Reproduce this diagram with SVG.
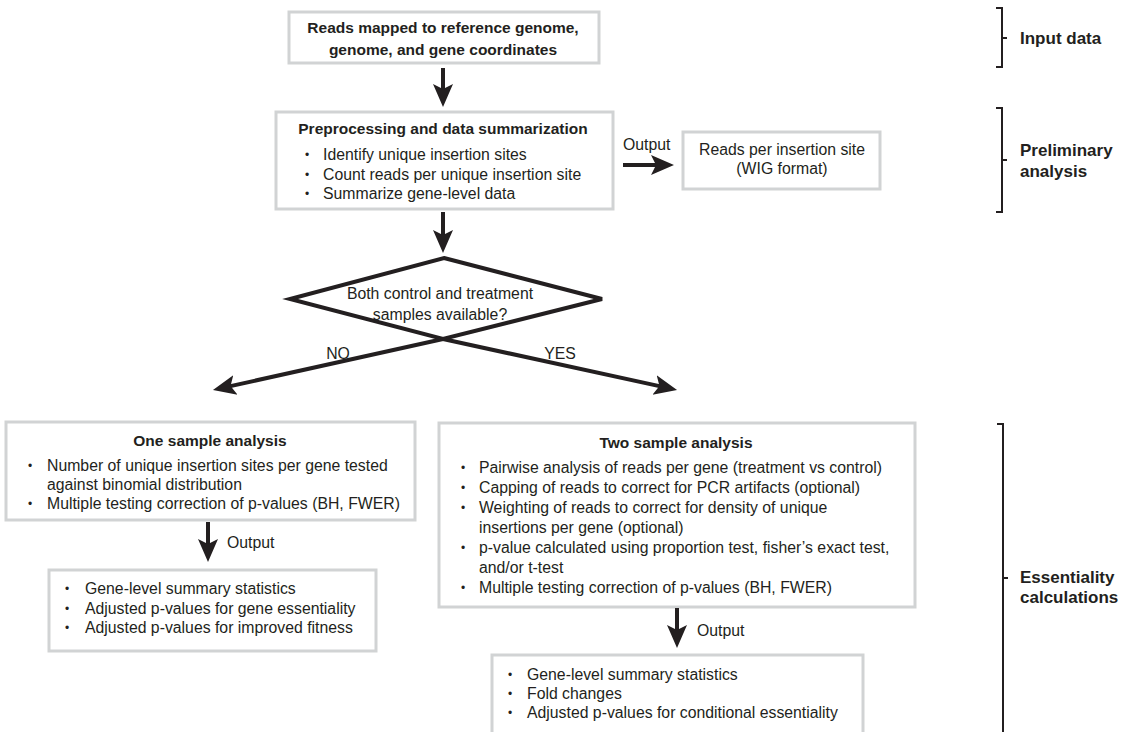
<svg xmlns="http://www.w3.org/2000/svg" width="1123" height="732" viewBox="0 0 1123 732">
<defs>
<style>
.box{fill:#fff;stroke:#d1d3d4;stroke-width:3}
.t{font-family:"Liberation Sans",Arial,sans-serif;font-size:15.8px;fill:#231f20}
.b{font-weight:bold;font-size:15.5px}
.lbl{font-weight:bold;font-size:17px}
.c{text-anchor:middle}
.bu{font-size:12px;text-anchor:middle}
.conn{stroke:#231f20;stroke-width:4;fill:none;marker-end:url(#ah)}
.br{stroke:#231f20;stroke-width:2;fill:none}
.dia{fill:#fff;stroke:#231f20;stroke-width:4;stroke-linejoin:miter}
</style>
<marker id="ah" markerUnits="userSpaceOnUse" markerWidth="24" markerHeight="22" viewBox="0 0 24 22" refX="12" refY="11" orient="auto">
<path d="M0,1 L23,11 L0,21 L5,11 Z" fill="#231f20"/>
</marker>
</defs>
<rect width="1123" height="732" fill="#fff"/>

<g id="input">
<rect class="box" x="289" y="12" width="310" height="51"/>
<text class="t b c" x="443" y="33">Reads mapped to reference genome,</text>
<text class="t b c" x="443" y="55">genome, and gene coordinates</text>
</g>

<g id="preprocessing">
<rect class="box" x="276" y="112" width="337" height="97"/>
<text class="t b c" x="443" y="134">Preprocessing and data summarization</text>
<text class="t bu" x="307" y="159">•</text><text class="t" x="323" y="160">Identify unique insertion sites</text>
<text class="t bu" x="307" y="178.5">•</text><text class="t" x="323" y="179.5">Count reads per unique insertion site</text>
<text class="t bu" x="307" y="198">•</text><text class="t" x="323" y="199">Summarize gene-level data</text>
</g>

<g id="wig">
<rect class="box" x="683" y="132" width="197" height="57"/>
<text class="t c" x="782" y="155">Reads per insertion site</text>
<text class="t c" x="782" y="174">(WIG format)</text>
</g>

<g id="decision">
<polygon class="dia" points="444,258 602,299 443,339 290,299"/>
<text class="t c" x="440" y="299">Both control and treatment</text>
<text class="t c" x="440" y="320">samples available?</text>
</g>

<g id="one-sample">
<rect class="box" x="6" y="422" width="409" height="98"/>
<text class="t b c" x="210" y="446">One sample analysis</text>
<text class="t bu" x="30" y="470">•</text><text class="t" x="47" y="471">Number of unique insertion sites per gene tested</text>
<text class="t" x="47" y="490">against binomial distribution</text>
<text class="t bu" x="30" y="508">•</text><text class="t" x="47" y="509">Multiple testing correction of p-values (BH, FWER)</text>
</g>

<g id="one-sample-output">
<rect class="box" x="49" y="570" width="327" height="81"/>
<text class="t bu" x="67" y="593">•</text><text class="t" x="85" y="594">Gene-level summary statistics</text>
<text class="t bu" x="67" y="612.5">•</text><text class="t" x="85" y="613.5">Adjusted p-values for gene essentiality</text>
<text class="t bu" x="67" y="632">•</text><text class="t" x="85" y="633">Adjusted p-values for improved fitness</text>
</g>

<g id="two-sample">
<rect class="box" x="439" y="423" width="476" height="184"/>
<text class="t b c" x="676" y="448">Two sample analysis</text>
<text class="t bu" x="463" y="472">•</text><text class="t" x="479" y="473">Pairwise analysis of reads per gene (treatment vs control)</text>
<text class="t bu" x="463" y="492">•</text><text class="t" x="479" y="493">Capping of reads to correct for PCR artifacts (optional)</text>
<text class="t bu" x="463" y="512">•</text><text class="t" x="479" y="513">Weighting of reads to correct for density of unique</text>
<text class="t" x="479" y="533">insertions per gene (optional)</text>
<text class="t bu" x="463" y="552">•</text><text class="t" x="479" y="553">p-value calculated using proportion test, fisher’s exact test,</text>
<text class="t" x="479" y="573">and/or t-test</text>
<text class="t bu" x="463" y="592">•</text><text class="t" x="479" y="593">Multiple testing correction of p-values (BH, FWER)</text>
</g>

<g id="two-sample-output">
<rect class="box" x="492" y="655" width="371" height="100"/>
<text class="t bu" x="510" y="679">•</text><text class="t" x="527" y="680">Gene-level summary statistics</text>
<text class="t bu" x="510" y="698">•</text><text class="t" x="527" y="699">Fold changes</text>
<text class="t bu" x="510" y="717">•</text><text class="t" x="527" y="718">Adjusted p-values for conditional essentiality</text>
</g>

<g id="connectors">
<line class="conn" x1="443" y1="68" x2="443" y2="96"/>
<line class="conn" x1="443" y1="212" x2="443" y2="242"/>
<line class="conn" x1="623" y1="165" x2="663" y2="165"/>
<line class="conn" x1="443" y1="339" x2="223.7" y2="387.6"/>
<line class="conn" x1="443" y1="339" x2="666.3" y2="387.6"/>
<line class="conn" x1="208" y1="522" x2="208" y2="551"/>
<line class="conn" x1="677" y1="608" x2="677" y2="637"/>
<text class="t" x="623" y="150">Output</text>
<text class="t c" x="338" y="359">NO</text>
<text class="t c" x="560" y="359">YES</text>
<text class="t" x="227" y="548">Output</text>
<text class="t" x="697" y="636">Output</text>
</g>

<g id="stages">
<path class="br" d="M996,8 H1002 V67 H996 M1002,38 H1007"/>
<text class="t lbl" x="1020" y="44">Input data</text>
<path class="br" d="M996,108 H1002 V212 H996 M1002,160 H1007"/>
<text class="t lbl" x="1020" y="156">Preliminary</text>
<text class="t lbl" x="1020" y="177">analysis</text>
<path class="br" d="M997,424 H1003 V740 M1003,578 H1008"/>
<text class="t lbl" x="1020" y="583">Essentiality</text>
<text class="t lbl" x="1020" y="603">calculations</text>
</g>
</svg>
